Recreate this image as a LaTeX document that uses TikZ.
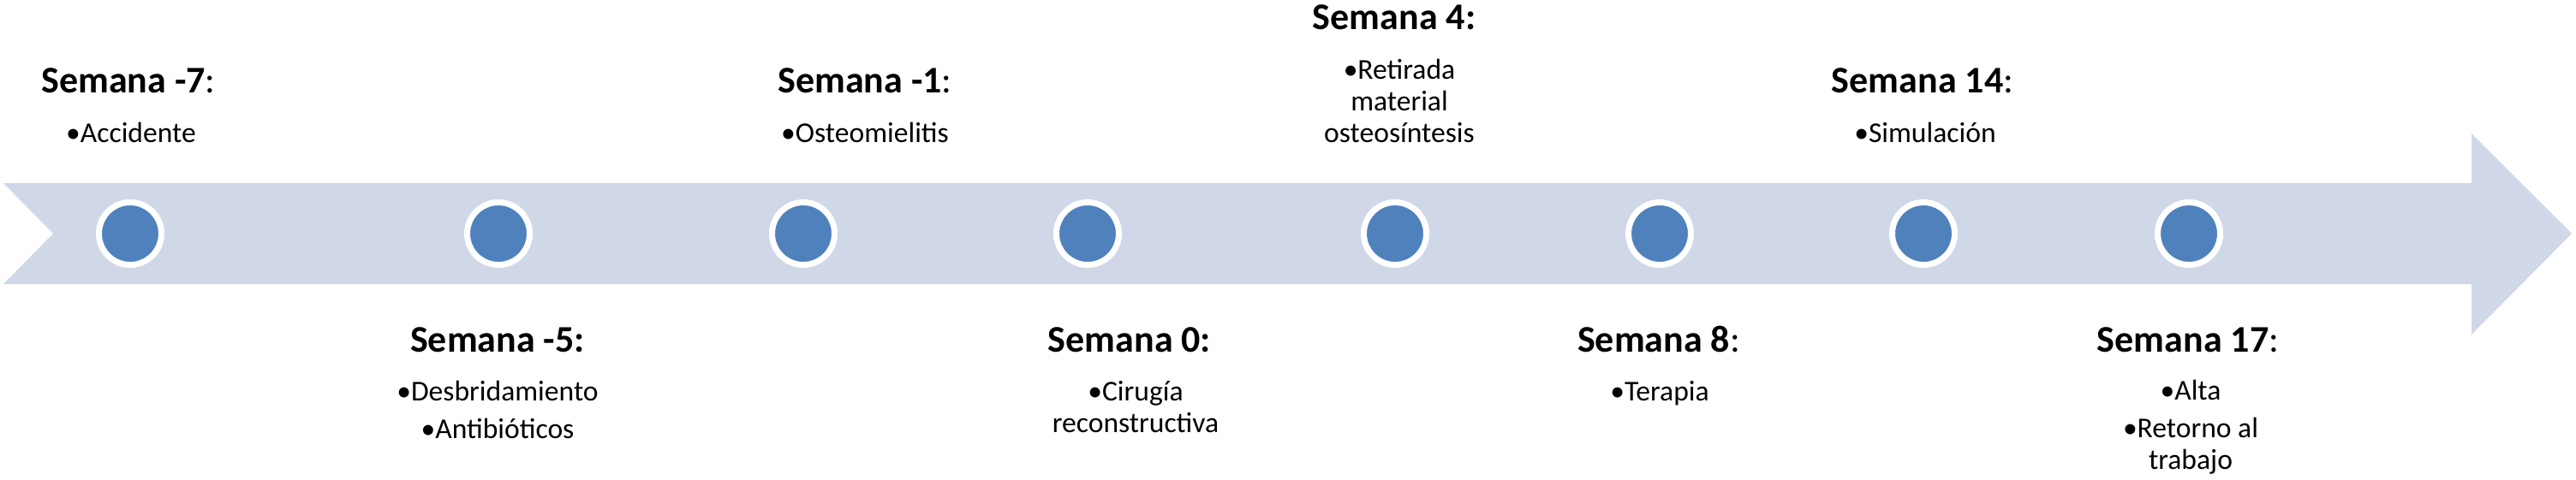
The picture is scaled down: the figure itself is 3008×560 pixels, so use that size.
\documentclass[tikz,border=0pt]{standalone}
\usepackage{fontspec}
\setmainfont{Carlito}
\definecolor{bandcol}{HTML}{D0D8E8}
\definecolor{dotcol}{HTML}{4F81BD}
\begin{document}
\begin{tikzpicture}[x=0.25pt,y=-0.25pt,
  dot/.style={circle,fill=dotcol,draw=white,line width=1.75pt,minimum size=18.25pt,inner sep=0pt},
  head/.style={anchor=base,inner sep=0pt,font=\fontsize{11}{13}\selectfont\bfseries},
  item/.style={anchor=base,inner sep=0pt,align=center,font=\fontsize{8.4}{9.25}\selectfont}]
\useasboundingbox (0,0) rectangle (3008,560);
% band arrow
\fill[bandcol] (4,214) -- (2886,214) -- (2886,156) -- (3003,273) -- (2886,391) -- (2886,332) -- (4,332) -- (62,273) -- cycle;
% dots
\foreach \n/\x in {1/152,2/582,3/938,4/1270,5/1629,6/1938,7/2246,8/2556}
  \node[dot] (d\n) at (\x,273) {};
% labels (multi-line nodes are placed by the baseline of their last line)
\node[head] (h1) at (150,108) {Semana -7\mdseries:};
\node[item] (t1) at (153,166) {•Accidente};
\node[head] (h2) at (581,411) {Semana -5:};
\node[item] (t2) at (581,512) {•Desbridamiento\\[1.75pt]•Antibióticos};
\node[head] (h3) at (1010,108) {Semana -1\mdseries:};
\node[item] (t3) at (1010,166) {•Osteomielitis};
\node[head] (h4) at (1319,411) {Semana 0:};
\node[item] (t4) at (1326,505) {•Cirugía\\reconstructiva};
\node[head] (h5) at (1628,34) {Semana 4:};
\node[item] (t5) at (1634,166) {•Retirada\\material\\osteosíntesis};
\node[head] (h6) at (1937,411) {Semana 8\mdseries:};
\node[item] (t6) at (1938,468) {•Terapia};
\node[head] (h7) at (2245,108) {Semana 14\mdseries:};
\node[item] (t7) at (2248,166) {•Simulación};
\node[head] (h8) at (2555,411) {Semana 17\mdseries:};
\node[item] (t8) at (2558,548) {•Alta\\[1.75pt]•Retorno al\\trabajo};
\end{tikzpicture}
\end{document}
